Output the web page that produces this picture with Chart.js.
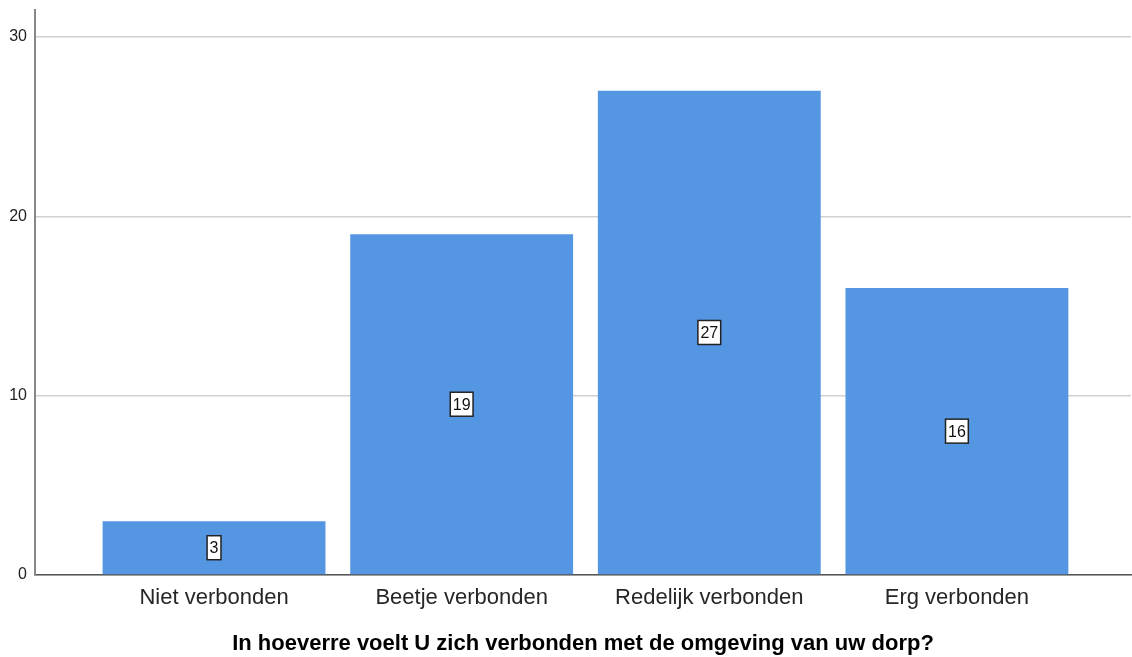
<!DOCTYPE html>
<html>
<head>
<meta charset="utf-8">
<script src="https://cdn.jsdelivr.net/npm/chart.js@4"></script>
<style>
html,body{margin:0;padding:0;background:#fff;}
#wrap{width:1132px;height:657px;}
</style>
</head>
<body>
<div id="wrap"><canvas id="c" width="1132" height="657"></canvas></div>
<script>
const categories = ["Niet verbonden", "Beetje verbonden", "Redelijk verbonden", "Erg verbonden"];
const counts = [3, 19, 27, 16];
const yTicks = [0, 10, 20, 30];
const axisTitle = "In hoeverre voelt U zich verbonden met de omgeving van uw dorp?";

const points = categories.map((c, i) => ({x: i + 1, y: counts[i]}));

const labelPlugin = {
  id: 'boxLabels',
  afterDatasetsDraw(chart) {
    const ctx = chart.ctx;
    const meta = chart.getDatasetMeta(0);
    ctx.save();
    ctx.font = '16px "Liberation Sans", Arial, sans-serif';
    ctx.textAlign = 'center';
    ctx.textBaseline = 'middle';
    meta.data.forEach((bar, i) => {
      const txt = String(counts[i]);
      const cx = bar.x;
      const cy = (bar.y + bar.base) / 2;
      const w = ctx.measureText(txt).width + 5;
      const h = 24;
      ctx.fillStyle = '#ffffff';
      ctx.fillRect(cx - w / 2, cy - h / 2, w, h);
      ctx.strokeStyle = '#222222';
      ctx.lineWidth = 1.5;
      ctx.strokeRect(cx - w / 2, cy - h / 2, w, h);
      ctx.fillStyle = '#111111';
      ctx.fillText(txt, cx, cy + 1);
    });
    ctx.restore();
  }
};

new Chart(document.getElementById('c'), {
  type: 'bar',
  data: {
    datasets: [{
      data: points,
      backgroundColor: '#5596e3',
      borderWidth: 0,
      barPercentage: 0.9,
      categoryPercentage: 1.0
    }]
  },
  options: {
    responsive: false,
    animation: false,
    layout: {padding: {top: 10, right: 1, bottom: 0, left: 0}},
    plugins: {legend: {display: false}, tooltip: {enabled: false}},
    scales: {
      x: {
        type: 'linear',
        offset: false,
        min: 0.277,
        max: 4.703,
        afterBuildTicks(scale) { scale.ticks = categories.map((c, i) => ({value: i + 1})); },
        afterFit(scale) { scale.height = 82; scale.paddingLeft = 0; scale.paddingRight = 0; },
        grid: {display: false, drawTicks: false, offset: false},
        border: {display: true, color: '#555555', width: 1.5},
        ticks: {
          autoSkip: false,
          maxRotation: 0,
          padding: 10,
          color: '#262626',
          font: {family: '"Liberation Sans", Arial, sans-serif', size: 22},
          callback: (v) => categories[Math.round(v) - 1] || ''
        },
        title: {
          display: true,
          text: axisTitle,
          color: '#000000',
          font: {family: '"Liberation Sans", Arial, sans-serif', size: 22, weight: 'bold'},
          padding: {top: 0, bottom: 0}
        }
      },
      y: {
        min: 0,
        max: 31.5,
        afterBuildTicks(scale) { scale.ticks = yTicks.map(v => ({value: v})); },
        afterFit(scale) { scale.width = 35; scale.paddingTop = 0; scale.paddingBottom = 0; },
        grid: {color: '#d0d0d0', lineWidth: 1.5, drawTicks: false},
        border: {display: true, color: '#888888', width: 2},
        ticks: {
          padding: 8,
          color: '#222222',
          font: {family: '"Liberation Sans", Arial, sans-serif', size: 16}
        }
      }
    }
  },
  plugins: [labelPlugin]
});
</script>
</body>
</html>
